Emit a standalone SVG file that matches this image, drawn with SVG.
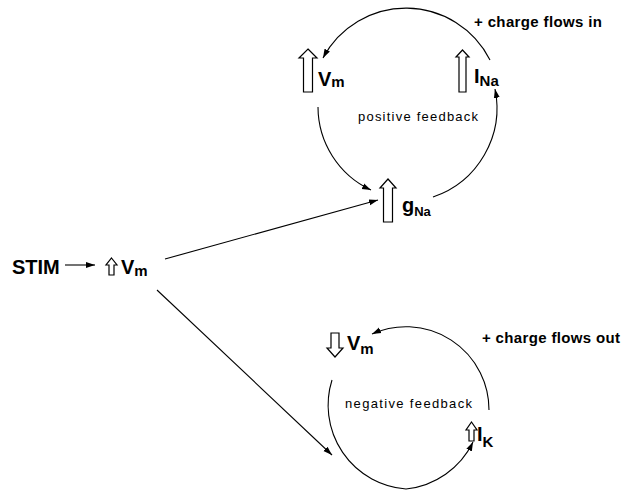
<svg xmlns="http://www.w3.org/2000/svg" width="626" height="491" viewBox="0 0 626 491">
<style>
.big{font-family:"Liberation Sans",Arial,sans-serif;font-weight:bold;font-size:20px;fill:#000}
.sub{font-size:15px}
.note{font-family:"Liberation Sans",Arial,sans-serif;font-weight:bold;font-size:15px;fill:#000}
.fb{font-family:"Liberation Sans",Arial,sans-serif;font-size:13px;fill:#000}
.hollow{fill:#fff;stroke:#000;stroke-width:1.2;stroke-linejoin:miter}
.conn{fill:none;stroke:#000;stroke-width:1.1}
</style>
<defs>
<marker id="ah" markerWidth="10" markerHeight="8" refX="9" refY="4" orient="auto" markerUnits="userSpaceOnUse">
<path d="M0,1 L9,4 L0,7 Z" fill="#000"/>
</marker>
</defs>
<rect width="626" height="491" fill="#fff"/>

<g id="stim">
<text class="big" x="12" y="274">STIM</text>
</g>
<g id="vm-stim">
<path class="hollow" d="M111.5,258 L117,265 L114,265 L114,275 L109,275 L109,265 L106,265 Z"/>
<text class="big" x="121" y="274">V<tspan class="sub" dy="2">m</tspan></text>
</g>

<g id="vm-pos">
<path class="hollow" d="M308,49 L317,58 L312.5,58 L312.5,92 L303.5,92 L303.5,58 L299,58 Z"/>
<text class="big" x="318" y="86">V<tspan class="sub" dy="1">m</tspan></text>
</g>
<g id="ina">
<path class="hollow" d="M462.5,50 L469,57 L466,57 L466,92 L459,92 L459,57 L456,57 Z"/>
<text class="big" x="474" y="83">I<tspan class="sub" dy="3">Na</tspan></text>
</g>
<g id="gna">
<path class="hollow" d="M388,179 L396,188 L392.5,188 L392.5,222 L383.5,222 L383.5,188 L380,188 Z"/>
<text class="big" x="402" y="212">g<tspan font-size="13" dy="4">Na</tspan></text>
</g>
<g id="pos-label">
<text class="fb" x="358" y="121" textLength="120" lengthAdjust="spacing">positive feedback</text>
<text class="note" x="474" y="27" textLength="128" lengthAdjust="spacing">+ charge flows in</text>
</g>

<g id="vm-neg">
<path class="hollow" d="M335,357 L343,348 L339,348 L339,333 L331,333 L331,348 L327,348 Z"/>
<text class="big" x="347" y="350">V<tspan class="sub" dy="4">m</tspan></text>
</g>
<g id="ik">
<path class="hollow" d="M471.5,422 L477,430 L474,430 L474,441 L469,441 L469,430 L466,430 Z"/>
<text class="big" x="477" y="441">I<tspan class="sub" dy="6">K</tspan></text>
</g>
<g id="neg-label">
<text class="fb" x="345" y="408" textLength="127" lengthAdjust="spacing">negative feedback</text>
<text class="note" x="482" y="343" textLength="138" lengthAdjust="spacing">+ charge flows out</text>
</g>

<g id="connectors">
<line class="conn" x1="65" y1="265" x2="95" y2="265" marker-end="url(#ah)"/>
<line class="conn" x1="165" y1="259" x2="378" y2="200" marker-end="url(#ah)"/>
<line class="conn" x1="157" y1="290" x2="332" y2="455" marker-end="url(#ah)"/>
<path class="conn" d="M490,60 A94,94 0 0 0 323,58" marker-end="url(#ah)"/>
<path class="conn" d="M318,107 A92,92 0 0 0 371,190" marker-end="url(#ah)"/>
<path class="conn" d="M433,197 A94,94 0 0 0 495,89" marker-end="url(#ah)"/>
<path class="conn" d="M489,410 A83,83 0 0 0 372,334" marker-end="url(#ah)"/>
<path class="conn" d="M332,380 A84,84 0 0 0 406,489 A84,84 0 0 0 473,442" marker-end="url(#ah)"/>
</g>
</svg>
